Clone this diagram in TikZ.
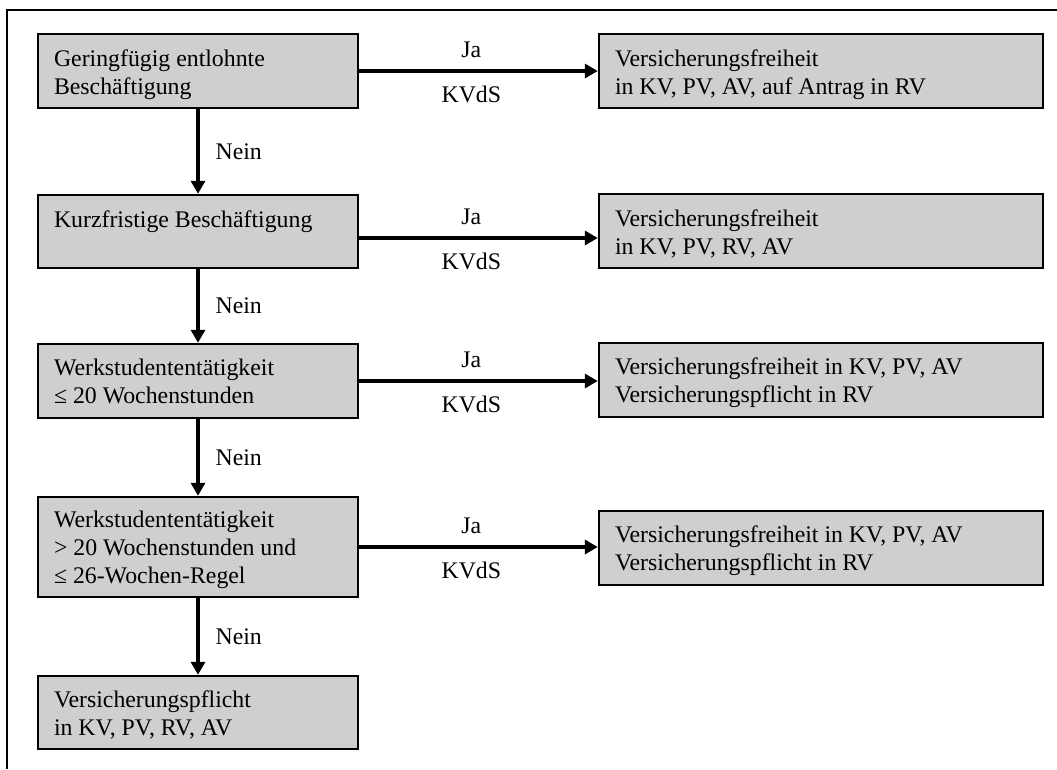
\documentclass[tikz,border=0pt]{standalone}
\usepackage{fontspec}
\setmainfont{Liberation Serif}
\usetikzlibrary{arrows.meta}
\definecolor{boxgray}{RGB}{208,206,207}
\begin{document}
\begin{tikzpicture}[x=1pt,y=-1pt,
  box/.style={draw=black, line width=2.4pt, fill=boxgray, inner sep=0pt, minimum height=74pt},
  leftbox/.style={box, minimum width=320pt},
  rightbox/.style={box, minimum width=444pt},
  boxtext/.style={anchor=north west, inner sep=0pt, align=left,
    font=\fontsize{23.8}{28}\selectfont},
  arr/.style={line width=3.2pt, -{Triangle[length=13pt,width=14pt]}},
  lbl/.style={inner sep=0pt, font=\fontsize{23.8}{28}\selectfont},
]
\useasboundingbox (0,0) rectangle (1057,769);

% frame along the top and left edges
\draw[line width=2pt] (1057,10) -- (7,10) -- (7,769);

% decision column
\node[leftbox] (g1) at (198,71) {};
\node[leftbox, minimum height=73pt] (g2) at (198,231.5) {};
\node[leftbox] (g3) at (198,381) {};
\node[leftbox, minimum height=100pt] (g4) at (198,547) {};
\node[leftbox, minimum height=73pt] (g5) at (198,712.5) {};

% result column
\node[rightbox] (r1) at (821,71) {};
\node[rightbox] (r2) at (821,231) {};
\node[rightbox] (r3) at (821,380) {};
\node[rightbox] (r4) at (821,548) {};

% box texts
\node[boxtext] (g1t) at ([xshift=17pt,yshift=-13.4pt]g1.north west) {\strut Geringfügig entlohnte\\\strut Beschäftigung};
\node[boxtext] (g2t) at ([xshift=17pt,yshift=-13.4pt]g2.north west) {\strut Kurzfristige Beschäftigung};
\node[boxtext] (g3t) at ([xshift=17pt,yshift=-12.4pt]g3.north west) {\strut Werkstudententätigkeit\\\strut ≤ 20 Wochenstunden};
\node[boxtext] (g4t) at ([xshift=17pt,yshift=-11.4pt]g4.north west) {\strut Werkstudententätigkeit\\\strut > 20 Wochenstunden und\\\strut ≤ 26-Wochen-Regel};
\node[boxtext] (g5t) at ([xshift=17pt,yshift=-12.4pt]g5.north west) {\strut Versicherungspflicht\\\strut in KV, PV, RV, AV};

\node[boxtext] (r1t) at ([xshift=17pt,yshift=-13.4pt]r1.north west) {\strut Versicherungsfreiheit\\\strut in KV, PV, AV, auf Antrag in RV};
\node[boxtext] (r2t) at ([xshift=17pt,yshift=-13.4pt]r2.north west) {\strut Versicherungsfreiheit\\\strut in KV, PV, RV, AV};
\node[boxtext] (r3t) at ([xshift=17pt,yshift=-12.8pt]r3.north west) {\strut Versicherungsfreiheit in KV, PV, AV\\\strut Versicherungspflicht in RV};
\node[boxtext] (r4t) at ([xshift=17pt,yshift=-12.8pt]r4.north west) {\strut Versicherungsfreiheit in KV, PV, AV\\\strut Versicherungspflicht in RV};

% "Nein" branches
\draw[arr] (g1.south) -- node[lbl, anchor=west, xshift=16pt] (n1) {Nein} (g2.north);
\draw[arr] (g2.south) -- node[lbl, anchor=west, xshift=16pt] (n2) {Nein} (g3.north);
\draw[arr] (g3.south) -- node[lbl, anchor=west, xshift=16pt] (n3) {Nein} (g4.north);
\draw[arr] (g4.south) -- node[lbl, anchor=west, xshift=16pt] (n4) {Nein} (g5.north);

% "Ja" branches
\draw[arr] (g1.east) -- node[lbl, pos=0.47, anchor=base, yshift=14pt] (j1) {Ja}
  node[lbl, pos=0.47, anchor=base, yshift=-31pt] (k1) {KVdS} (r1.west);
\coordinate (a2) at ([yshift=-6.5pt]g2.east);
\draw[arr] (a2) -- node[lbl, pos=0.47, anchor=base, yshift=14pt] (j2) {Ja}
  node[lbl, pos=0.47, anchor=base, yshift=-31pt] (k2) {KVdS} (a2 -| r2.west);
\draw[arr] (g3.east) -- node[lbl, pos=0.47, anchor=base, yshift=14pt] (j3) {Ja}
  node[lbl, pos=0.47, anchor=base, yshift=-31pt] (k3) {KVdS} (g3.east -| r3.west);
\draw[arr] (g4.east) -- node[lbl, pos=0.47, anchor=base, yshift=14pt] (j4) {Ja}
  node[lbl, pos=0.47, anchor=base, yshift=-31pt] (k4) {KVdS} (g4.east -| r4.west);
\end{tikzpicture}
\end{document}
